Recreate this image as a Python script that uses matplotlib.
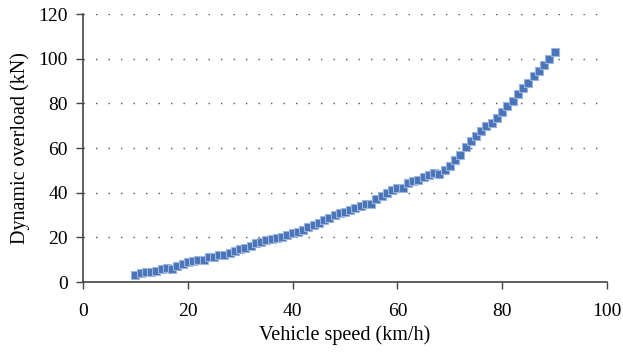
import matplotlib

matplotlib.use("Agg")
import matplotlib.pyplot as plt

# vehicle speed (km/h) and dynamic overload (kN)
speed = list(range(10, 91))
overload = [
    3.1, 3.9, 4.3, 4.6, 5.1, 5.7, 6.1, 6.0, 7.3, 8.1,
    8.8, 9.3, 10.0, 9.7, 11.0, 11.0, 12.1, 12.2, 13.2, 14.1,
    14.7, 15.2, 16.2, 17.3, 18.1, 18.8, 19.2, 19.6, 20.2, 21.2,
    22.0, 22.4, 23.3, 24.7, 25.6, 26.6, 27.6, 28.6, 29.8, 30.7,
    31.5, 32.4, 33.1, 33.9, 35.0, 35.0, 37.0, 38.3, 40.0, 41.2,
    42.0, 42.3, 44.2, 45.2, 45.7, 47.2, 47.9, 48.8, 48.2, 50.2,
    52.1, 54.5, 56.9, 60.5, 63.1, 65.4, 67.6, 69.9, 71.4, 73.6,
    76.0, 78.8, 81.2, 84.0, 86.7, 89.1, 92.2, 94.6, 97.0, 99.8,
    102.8,
]
xticks = [0, 20, 40, 60, 80, 100]
yticks = [0, 20, 40, 60, 80, 100, 120]

plt.rcParams["font.family"] = ["Liberation Serif", "DejaVu Serif"]

fig = plt.figure(figsize=(6.23, 3.53), dpi=100)
ax = fig.add_axes([0.1332, 0.2011, 0.8411, 0.7592])

ax.plot(speed, overload, "-s", color="#4a74b8", lw=1.0, ms=5.5,
        mfc="#4a74b8", mec="#9bb5dd", mew=0.8, zorder=3)

ax.set_xlim(0, 100)
ax.set_ylim(0, 120)
ax.set_xticks(xticks)
ax.set_yticks(yticks)
ax.grid(axis="y", color="#555555", linestyle=(0, (1, 8)), linewidth=1.0)
for side in ("top", "right"):
    ax.spines[side].set_visible(False)
for side in ("left", "bottom"):
    ax.spines[side].set_color("#444444")
    ax.spines[side].set_linewidth(1.2)
ax.tick_params(direction="out", length=5, width=1, color="#444444",
               labelsize=14, pad=6)
ax.tick_params(axis="x", pad=10)

ax.set_xlabel("Vehicle speed (km/h)", fontsize=14.5, labelpad=4)
ax.set_ylabel("Dynamic overload (kN)", fontsize=14.5, labelpad=6)

fig.savefig("out.png", dpi=100)
